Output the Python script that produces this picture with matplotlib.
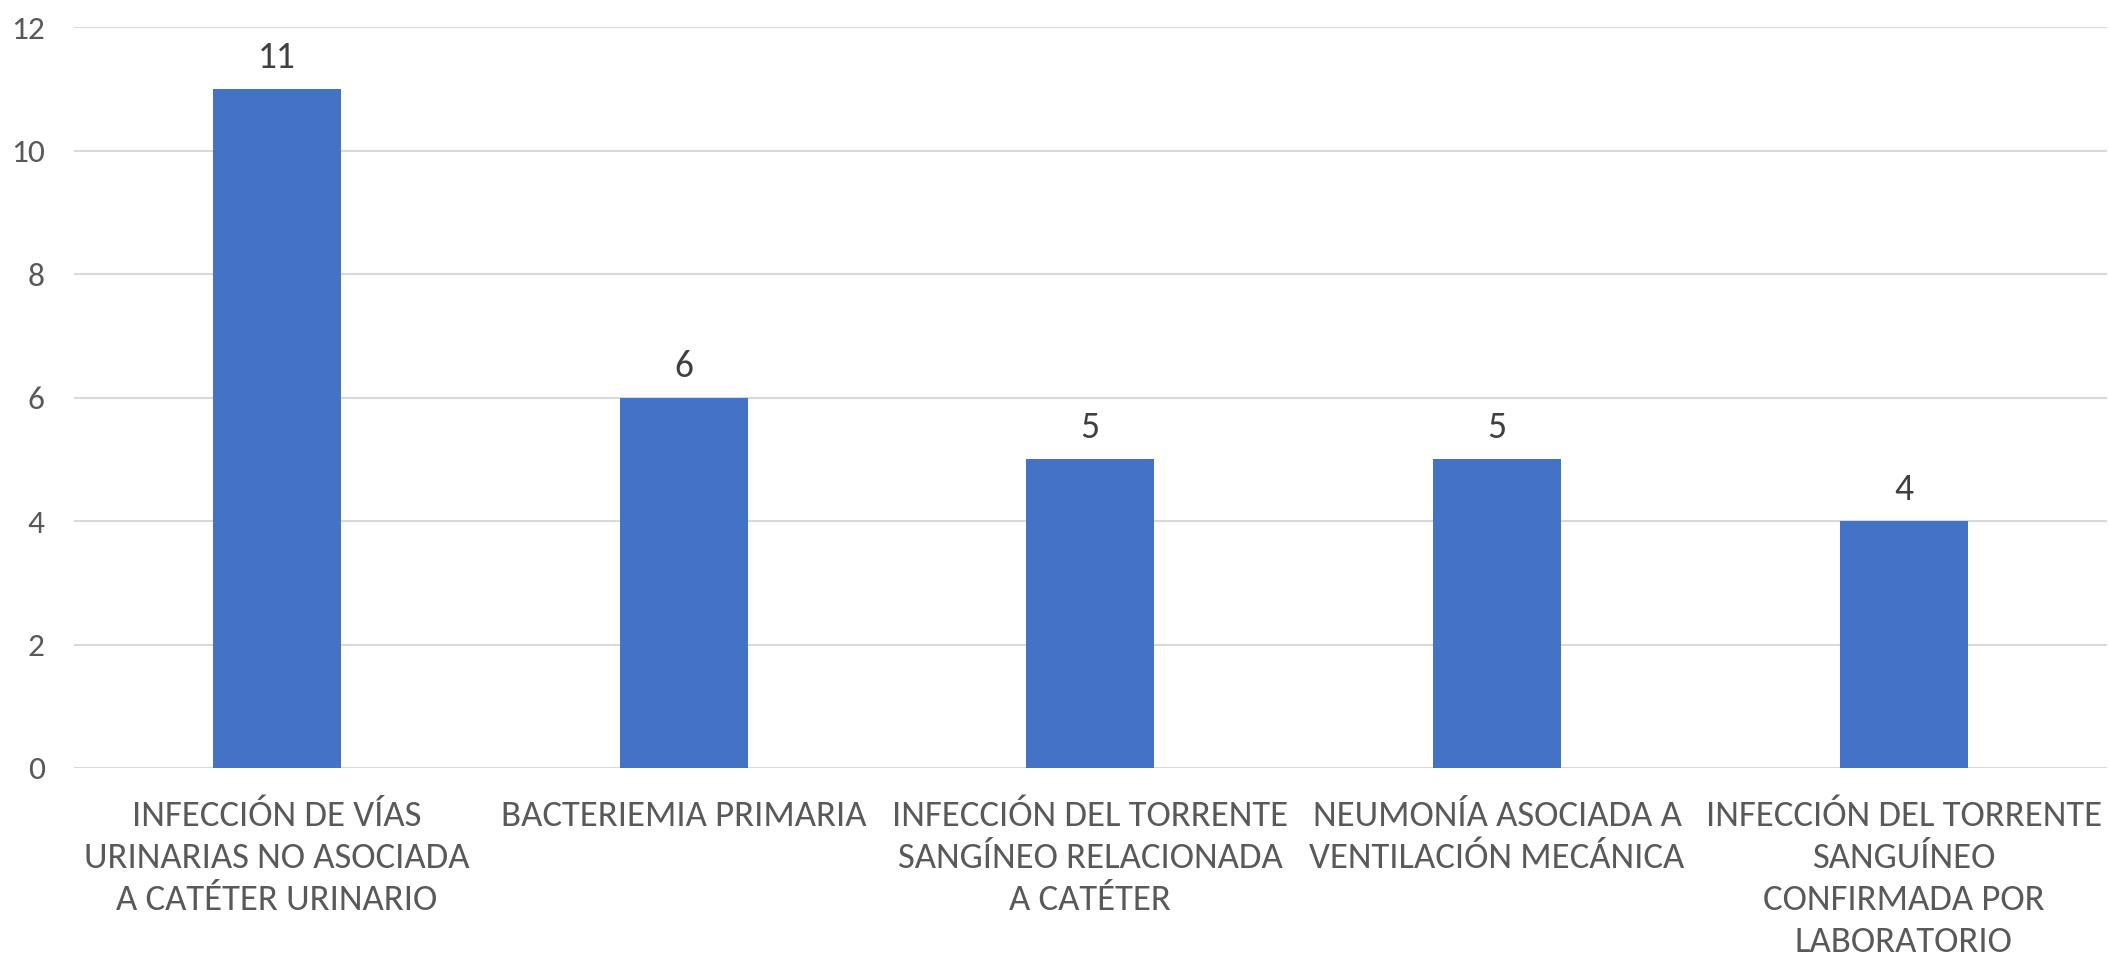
import matplotlib
matplotlib.use("Agg")
import matplotlib.pyplot as plt
from matplotlib import font_manager

categorias = [
    "INFECCIÓN DE VÍAS\nURINARIAS NO ASOCIADA\nA CATÉTER URINARIO",
    "BACTERIEMIA PRIMARIA",
    "INFECCIÓN DEL TORRENTE\nSANGÍNEO RELACIONADA\nA CATÉTER",
    "NEUMONÍA ASOCIADA A\nVENTILACIÓN MECÁNICA",
    "INFECCIÓN DEL TORRENTE\nSANGUÍNEO\nCONFIRMADA POR\nLABORATORIO",
]
casos = [11, 6, 5, 5, 4]
yticks = [0, 2, 4, 6, 8, 10, 12]

# Calibri-like font if it's there
names = {f.name for f in font_manager.fontManager.ttflist}
for cand in ["Carlito", "Lato", "Open Sans"]:
    if cand in names:
        fam = [cand, "DejaVu Sans"]
        break
plt.rcParams["font.family"] = fam

fig = plt.figure(figsize=(21.09, 9.67), dpi=100)
ax = fig.add_axes([0.035, 0.2058, 0.964, 0.7662])

x = range(len(casos))
ax.bar(x, casos, width=0.315, color="#4472C4", zorder=3)
for i, v in enumerate(casos):
    ax.text(i, v + 0.34, str(v), ha="center", va="baseline", fontsize=27, color="#404040")

ax.set_xlim(-0.5, len(casos) - 0.5)
ax.set_ylim(0, 12)
ax.set_yticks(yticks)
ax.set_yticklabels([str(t) for t in yticks], fontsize=24, color="#595959")
ax.set_xticks(list(x))
ax.set_xticklabels(categorias, fontsize=26.5, color="#595959", linespacing=1.38)
ax.tick_params(axis="both", length=0)
ax.tick_params(axis="y", pad=21)
ax.tick_params(axis="x", pad=23)
ax.grid(axis="y", color="#D9D9D9", linewidth=1.5, zorder=0)
for s in ax.spines.values():
    s.set_visible(False)

fig.savefig("out.png", dpi=100)
